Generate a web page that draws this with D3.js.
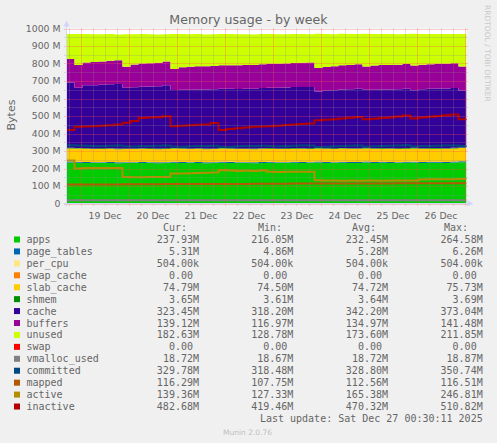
<!DOCTYPE html>
<html>
<head>
<meta charset="utf-8">
<script src="https://cdn.jsdelivr.net/npm/d3@7"></script>
<style>
html, body { margin: 0; padding: 0; background: #f0f0f0; }
svg { display: block; font-family: "DejaVu Sans", sans-serif; }
.mono { font-family: "DejaVu Sans Mono", monospace; font-size: 10px; fill: #666; white-space: pre; }
</style>
</head>
<body>
<svg id="svg" width="497" height="443"></svg>
<script>
// samples every 4 hours, starting Dec 18 17:00 (UTC)
const startTime = Date.UTC(2025, 11, 18, 17, 0);
const stepHours = 4;

// stacked areas (M)
const apps = [234,233,232,231,231,232,230,231,231,232, 231,230,231,233,232,231,232,230,231,233,
  232,231,231,230,232,233,231,231,233,232, 231,234,232,231,233,232,232,234,232,233,
  232,231,233,234,232,233,233,232,234,236, 238];
const page_tables = [5.5,5.4,5.3,5.3,5.2,5.3,5.4,5.3,5.2,5.3, 5.3,5.2,5.3,5.4,5.3,5.2,5.3,5.3,5.2,5.3,
  5.4,5.3,5.2,5.3,5.3,5.2,5.3,5.4,5.3,5.2, 5.3,5.3,5.2,5.3,5.4,5.3,5.2,5.3,5.3,5.2,
  5.3,5.4,5.3,5.2,5.3,5.3,5.2,5.3,5.4,5.3, 5.3];
const per_cpu = [0.5,0.5,0.5,0.5,0.5,0.5,0.5,0.5,0.5,0.5, 0.5,0.5,0.5,0.5,0.5,0.5,0.5,0.5,0.5,0.5,
  0.5,0.5,0.5,0.5,0.5,0.5,0.5,0.5,0.5,0.5, 0.5,0.5,0.5,0.5,0.5,0.5,0.5,0.5,0.5,0.5,
  0.5,0.5,0.5,0.5,0.5,0.5,0.5,0.5,0.5,0.5, 0.5];
const swap_cache = [0,0,0,0,0,0,0,0,0,0, 0,0,0,0,0,0,0,0,0,0, 0,0,0,0,0,0,0,0,0,0,
  0,0,0,0,0,0,0,0,0,0, 0,0,0,0,0,0,0,0,0,0, 0];
const slab_cache = [74.6,74.7,74.7,74.6,74.8,74.7,74.7,74.6,74.7,74.8, 74.7,74.6,74.7,74.7,74.8,74.7,74.6,74.7,74.7,74.8,
  74.7,74.6,74.7,74.7,74.8,74.7,74.6,74.7,74.7,74.8, 74.7,74.6,74.7,74.7,74.8,74.7,74.6,74.7,74.7,74.8,
  74.7,74.6,74.7,74.7,74.8,74.7,74.6,74.7,74.7,75.0, 74.8];
const shmem = [3.6,3.6,3.6,3.6,3.6,3.6,3.6,3.6,3.6,3.6, 3.6,3.6,3.6,3.6,3.6,3.6,3.6,3.6,3.6,3.6,
  3.6,3.6,3.6,3.6,3.6,3.6,3.6,3.6,3.6,3.6, 3.6,3.6,3.6,3.6,3.6,3.6,3.6,3.6,3.6,3.6,
  3.6,3.6,3.6,3.6,3.6,3.6,3.6,3.6,3.6,3.7, 3.7];
const cache = [373,344,360,361,363,365,369,347,349,351, 353,356,360,332,334,335,336,337,338,339,
  339,340,341,342,344,345,346,347,348,350, 351,322,329,332,334,337,340,332,334,335,
  336,338,339,329,336,338,340,341,342,324, 323];
const buffers = [134,130,130,132,133,134,135,119,130,133, 134,135,136,120,128,131,132,133,133,134,
  135,135,135,136,136,137,138,138,138,138, 139,134,135,137,138,139,140,133,138,139,
  140,140,141,141,141,141,141,141,141,139, 139];
const unused = [144,178,162,159,156,153,148,186,173,168, 165,161,156,200,190,186,184,182,181,179,
  178,177,176,174,172,170,168,167,166,164, 162,196,188,183,180,176,172,187,180,178,
  176,174,172,182,175,173,171,170,168,185, 185];
const swap = [0,0,0,0,0,0,0,0,0,0, 0,0,0,0,0,0,0,0,0,0, 0,0,0,0,0,0,0,0,0,0,
  0,0,0,0,0,0,0,0,0,0, 0,0,0,0,0,0,0,0,0,0, 0];

// lines (M)
const vmalloc_used = [18.7,18.7,18.7,18.7,18.7,18.7,18.7,18.7,18.7,18.7, 18.7,18.7,18.7,18.7,18.7,18.7,18.7,18.7,18.7,18.7,
  18.7,18.7,18.7,18.7,18.7,18.7,18.7,18.7,18.7,18.7, 18.7,18.7,18.7,18.7,18.7,18.7,18.7,18.7,18.7,18.7,
  18.7,18.7,18.7,18.7,18.7,18.7,18.7,18.7,18.7,18.7, 18.7];
const committed = [333,331,330,329,328,330,332,327,326,328, 329,330,331,326,325,327,328,329,330,324,
  325,327,328,329,330,328,327,329,330,331, 332,323,325,327,328,330,331,326,327,329,
  330,331,333,327,328,329,330,331,332,329, 330];
const mapped = [108,108,108,109,109,109,109,110,110,110, 110,110,111,111,111,111,111,112,112,112,
  112,112,112,113,113,113,113,113,114,114, 114,114,114,114,115,115,115,115,115,115,
  115,116,116,116,116,116,116,116,116,116, 116];
const active = [246,200,203,203,203,203,203,151,150,150, 151,151,152,171,172,173,174,176,177,190,
  188,186,187,186,188,181,180,181,182,181, 182,133,132,131,130,131,130,131,132,130,
  131,132,131,132,137,138,139,138,139,140, 139];
const inactive = [420,438,440,442,444,447,452,462,472,488, 491,493,498,441,444,447,450,452,460,420,
  426,430,434,438,440,442,444,448,452,455, 457,476,479,482,486,490,495,481,484,488,
  492,497,503,486,492,496,500,504,508,482, 483];

// legend
const names = ["apps","page_tables","per_cpu","swap_cache","slab_cache","shmem","cache","buffers","unused","swap",
  "vmalloc_used","committed","mapped","active","inactive"];
const colors = ["#00CC00","#0066B3","#FFE680","#FF8000","#FFCC00","#008F00","#330099","#990099","#CCFF00","#FF0000",
  "#808080","#00487D","#B35A00","#B38F00","#B30000"];
const curText = ["237.93M","5.31M","504.00k","0.00","74.79M","3.65M","323.45M","139.12M","182.63M","0.00",
  "18.72M","329.78M","116.29M","139.36M","482.68M"];
const minText = ["216.05M","4.86M","504.00k","0.00","74.50M","3.61M","318.20M","116.97M","128.78M","0.00",
  "18.67M","318.48M","107.75M","127.33M","419.46M"];
const avgText = ["232.45M","5.28M","504.00k","0.00","74.72M","3.64M","342.20M","134.97M","173.60M","0.00",
  "18.72M","328.80M","112.56M","165.38M","470.32M"];
const maxText = ["264.58M","6.26M","504.00k","0.00","75.73M","3.69M","373.04M","141.48M","211.85M","0.00",
  "18.87M","350.74M","116.51M","246.81M","510.82M"];
const yTicks = [0,100,200,300,400,500,600,700,800,900,1000];

const series = {apps, page_tables, per_cpu, swap_cache, slab_cache, shmem, cache, buffers, unused, swap,
  vmalloc_used, committed, mapped, active, inactive};
const areaKeys = names.slice(0, 10);
const lineKeys = names.slice(10);
const colorOf = {};
names.forEach((n, i) => colorOf[n] = colors[i]);

let rows = apps.map((_, i) => {
  let r = {date: new Date(startTime + i * stepHours * 3600e3)};
  names.forEach(n => r[n] = series[n][i]);
  return r;
});

const X0 = 66.5, X1 = 466.5, Y0 = 203.5, Y1 = 28.5;
let x = d3.scaleUtc()
  .domain([new Date(startTime), new Date(startTime + 200 * 3600e3)])
  .range([X0, X1]);
let y = d3.scaleLinear().domain([0, 1000]).range([Y0, Y1]);

let svg = d3.select("#svg");
svg.append("rect").attr("width", 497).attr("height", 443).attr("fill", "#f0f0f0");
svg.append("rect").attr("x", X0).attr("y", Y1).attr("width", X1 - X0).attr("height", Y0 - Y1).attr("fill", "#ffffff");

svg.append("defs").append("clipPath").attr("id", "clip")
  .append("rect").attr("x", X0).attr("y", Y1).attr("width", X1 - X0).attr("height", Y0 - Y1);

let plot = svg.append("g").attr("clip-path", "url(#clip)");

// stacked areas
let stacked = d3.stack().keys(areaKeys)(rows);
let area = d3.area()
  .curve(d3.curveStepAfter)
  .x(d => x(d.data.date))
  .y0(d => y(d[0]))
  .y1(d => y(d[1]));
plot.selectAll("path.area")
  .data(stacked)
  .enter().append("path")
  .attr("class", "area")
  .attr("fill", d => colorOf[d.key])
  .attr("d", area);

// lines
lineKeys.forEach(k => {
  let line = d3.line()
    .curve(d3.curveStepAfter)
    .x(d => x(d.date))
    .y(d => y(d[k]));
  plot.append("path")
    .datum(rows)
    .attr("fill", "none")
    .attr("stroke", colorOf[k])
    .attr("stroke-width", 2)
    .attr("d", line);
});

// grid, drawn over the data like rrdtool
let grid = svg.append("g");
let sixHours = d3.utcHour.every(6).range(x.domain()[0], x.domain()[1]);
sixHours.forEach(t => {
  let major = t.getUTCHours() === 0;
  grid.append("line")
    .attr("x1", Math.round(x(t)) + 0.5).attr("x2", Math.round(x(t)) + 0.5)
    .attr("y1", Y1).attr("y2", Y0 + 2)
    .attr("stroke", major ? "rgba(255,80,80,0.6)" : "rgba(140,140,140,0.5)")
    .attr("stroke-dasharray", "1,1");
});
d3.range(0, 1001, 50).forEach(v => {
  let major = v % 100 === 0;
  grid.append("line")
    .attr("x1", X0 - 2).attr("x2", X1 + 2)
    .attr("y1", Math.round(y(v)) + 0.5).attr("y2", Math.round(y(v)) + 0.5)
    .attr("stroke", major ? "rgba(255,80,80,0.6)" : "rgba(140,140,140,0.5)")
    .attr("stroke-dasharray", "1,1");
});

// axes lines and arrows
svg.append("line").attr("x1", X0 - 3).attr("x2", X1 + 2).attr("y1", Y0).attr("y2", Y0)
  .attr("stroke", "#CFD6F8");
svg.append("line").attr("x1", X0).attr("x2", X0).attr("y1", Y0 + 3).attr("y2", Y1 - 4)
  .attr("stroke", "#CFD6F8");
svg.append("path").attr("d", `M${X1 + 1},${Y0 - 3}L${X1 + 7},${Y0}L${X1 + 1},${Y0 + 3}Z`).attr("fill", "#CFD6F8");
svg.append("path").attr("d", `M${X0 - 3},${Y1 - 2}L${X0},${Y1 - 8}L${X0 + 3},${Y1 - 2}Z`).attr("fill", "#CFD6F8");

// x labels at noon
let noons = d3.utcDay.range(new Date(Date.UTC(2025, 11, 19)), new Date(Date.UTC(2025, 11, 27)))
  .map(d => new Date(d.getTime() + 12 * 3600e3));
let xAxis = svg.append("g")
  .attr("transform", `translate(0,${Y0})`)
  .call(d3.axisBottom(x).tickValues(noons).tickFormat(d3.utcFormat("%d Dec")).tickSize(0).tickPadding(9));
xAxis.select(".domain").remove();
xAxis.selectAll("text").attr("fill", "#666").style("font-size", "9.3px").style("font-family", "DejaVu Sans");

let yAxis = svg.append("g")
  .attr("transform", `translate(${X0 - 6},0)`)
  .call(d3.axisLeft(y).tickValues(yTicks).tickFormat(d => d === 0 ? "0" : d + " M").tickSize(0).tickPadding(0));
yAxis.select(".domain").remove();
yAxis.selectAll("text").attr("fill", "#666").style("font-size", "9.3px").style("font-family", "DejaVu Sans");

// titles
svg.append("text").attr("x", 248.5).attr("y", 24).attr("text-anchor", "middle")
  .attr("fill", "#666").style("font-size", "12.6px").text("Memory usage - by week");
svg.append("text").attr("transform", "translate(15,115) rotate(-90)").attr("text-anchor", "middle")
  .attr("fill", "#666").style("font-size", "11px").text("Bytes");
svg.append("text").attr("transform", "translate(485,5) rotate(90)")
  .attr("fill", "#c8c8c8").style("font-size", "7.5px").text("RRDTOOL / TOBI OETIKER");

// legend
let legend = svg.append("g");
let cols = [{head: "Cur:", hx: 163, right: 199, vals: curText},
            {head: "Min:", hx: 258, right: 293.3, vals: minText},
            {head: "Avg:", hx: 352, right: 388, vals: avgText},
            {head: "Max:", hx: 444, right: 482.7, vals: maxText}];
cols.forEach(c => {
  legend.append("text").attr("class", "mono").attr("x", c.hx).attr("y", 231).text(c.head);
});
names.forEach((n, i) => {
  let by = 243 + i * 11.93;
  legend.append("rect").attr("x", 14).attr("y", by - 6.5).attr("width", 6).attr("height", 6).attr("fill", colors[i]);
  legend.append("text").attr("class", "mono").attr("x", 26.5).attr("y", by).text(n);
  cols.forEach(c => {
    let v = c.vals[i];
    let hasUnit = /[A-Za-z]$/.test(v);
    legend.append("text").attr("class", "mono").attr("text-anchor", "end")
      .attr("x", hasUnit ? c.right : c.right - 6.02).attr("y", by).text(v);
  });
});
legend.append("text").attr("class", "mono").attr("text-anchor", "end").attr("x", 482.7).attr("y", 422)
  .text("Last update: Sat Dec 27 00:30:11 2025");
svg.append("text").attr("x", 223).attr("y", 435).attr("fill", "#c0c0c0").style("font-size", "7.5px")
  .text("Munin 2.0.76");
</script>
</body>
</html>
